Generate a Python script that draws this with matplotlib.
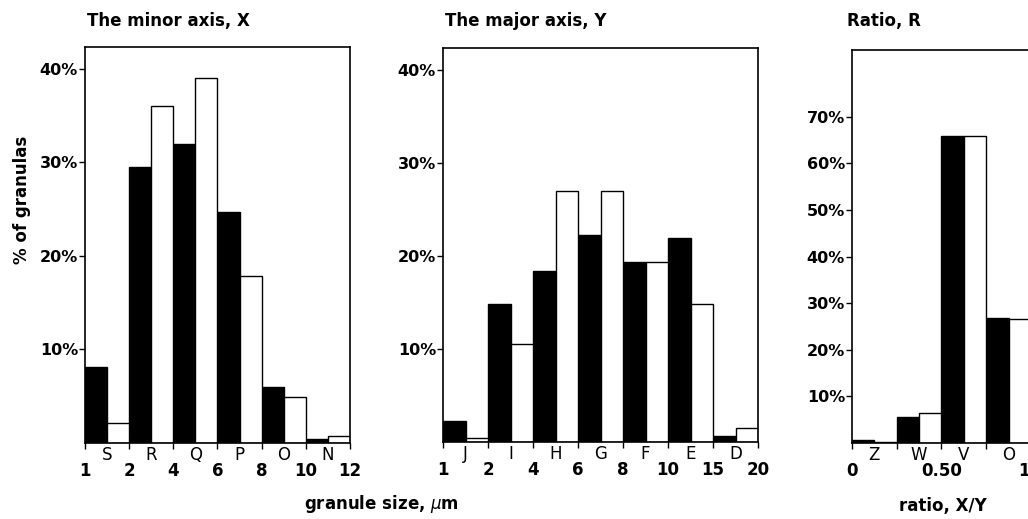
import matplotlib
matplotlib.use("Agg")
import matplotlib.pyplot as plt
import matplotlib.transforms as mtransforms
import numpy as np

plt.rcParams['font.family'] = ['DejaVu Sans']

# minor axis X
x_letters = ["S", "R", "Q", "P", "O", "N"]
x_edges = ["1", "2", "4", "6", "8", "10", "12"]
x_black = [8.1, 29.5, 31.9, 24.7, 6.0, 0.4]
x_white = [2.1, 36.0, 39.0, 17.8, 4.9, 0.8]

# major axis Y
y_letters = ["J", "I", "H", "G", "F", "E", "D"]
y_edges = ["1", "2", "4", "6", "8", "10", "15", "20"]
y_black = [2.3, 14.9, 18.4, 22.3, 19.4, 22.0, 0.6]
y_white = [0.4, 10.6, 27.0, 27.0, 19.4, 14.8, 1.5]

# ratio R (right part of the panel is cut off in the source)
r_letters = ["Z", "W", "V", "O"]
r_edges = ["0", "", "0.50", "", "1.00", "", "", ""]
r_black = [0.6, 5.6, 65.9, 26.8]
r_white = [0.3, 6.4, 65.9, 26.6]

W, H = 1028, 519
fig = plt.figure(figsize=(W / 100, H / 100), dpi=100)


def px_axes(left, top, right, bottom):
    return fig.add_axes([left / W, (H - bottom) / H, (right - left) / W, (bottom - top) / H])


def panel(ax, letters, edges, black, white, ncat, ytop, yticks):
    n = len(black)
    pos = np.arange(n)
    ax.bar(pos, black, width=0.5, align='edge', color='black', edgecolor='black', linewidth=1)
    ax.bar(pos + 0.5, white, width=0.5, align='edge', color='white', edgecolor='black', linewidth=1)
    ax.set_xlim(0, ncat)
    ax.set_ylim(0, ytop)
    ax.set_xticks(np.arange(len(edges)))
    ax.set_xticklabels(edges, fontweight='bold')
    ax.set_xticks(np.arange(len(letters)) + 0.5, minor=True)
    ax.set_xticklabels(letters, minor=True)
    ax.tick_params(axis='x', which='major', direction='out', length=4, width=1,
                   pad=10, labelsize=12)
    ax.tick_params(axis='x', which='minor', length=0, pad=2, labelsize=12)
    ax.set_yticks(yticks)
    ax.set_yticklabels([f"{v}%" for v in yticks], fontweight='bold')
    ax.tick_params(axis='y', direction='out', length=4, width=1, pad=1, labelsize=11.5)
    for s in ax.spines.values():
        s.set_linewidth(1.2)


ax1 = px_axes(85, 47, 350, 443)
panel(ax1, x_letters, x_edges, x_black, x_white, 6, 42.3, [10, 20, 30, 40])

ax2 = px_axes(443, 48, 758, 442)
panel(ax2, y_letters, y_edges, y_black, y_white, 7, 42.4, [10, 20, 30, 40])

ax3 = px_axes(852, 50, 1165, 443)
panel(ax3, r_letters, r_edges, r_black, r_white, 7, 84.3, [10, 20, 30, 40, 50, 60, 70])
# the "1.00" label sits a little right of its tick in the source
lab = ax3.get_xticklabels()[4]
lab.set_transform(lab.get_transform() + mtransforms.ScaledTranslation(8 / 100, 0, fig.dpi_scale_trans))

tkw = dict(fontsize=12, fontweight='bold')
fig.text(87 / W, 1 - 21 / H, "The minor axis, X", va='center', ha='left', **tkw)
fig.text(445 / W, 1 - 21 / H, "The major axis, Y", va='center', ha='left', **tkw)
fig.text(847 / W, 1 - 21 / H, "Ratio, R", va='center', ha='left', **tkw)
fig.text(22 / W, 1 - 200 / H, "% of granulas", rotation=90, va='center', ha='center', **tkw)
fig.text(381 / W, 1 - 504 / H, r"granule size, $\mu$m", va='center', ha='center', **tkw)
fig.text(943 / W, 1 - 506 / H, "ratio, X/Y", va='center', ha='center', **tkw)

fig.savefig("out.png", dpi=100)
